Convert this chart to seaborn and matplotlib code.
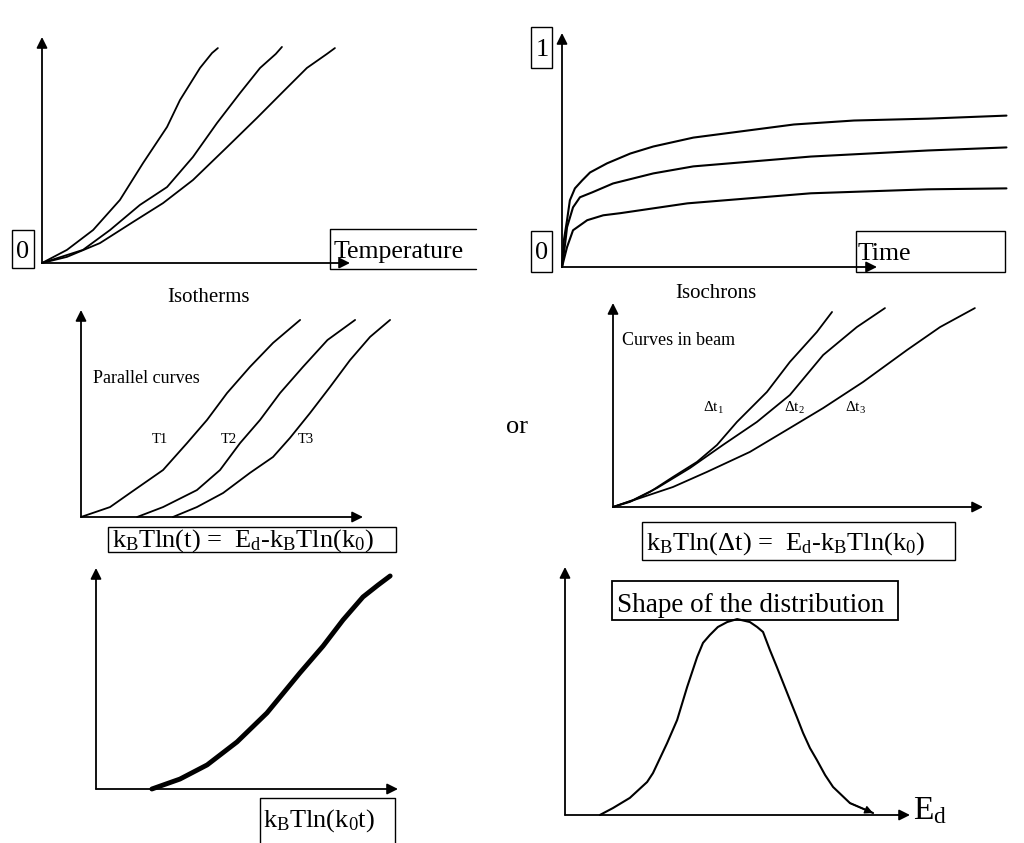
import matplotlib
matplotlib.use("Agg")
import matplotlib.pyplot as plt
import seaborn as sns
import numpy as np
from matplotlib.patches import Rectangle

# ---------------- data (normalised units: 0..100 along each drawn axis) ----------------
# Panel 1: isotherms (fraction vs temperature)
ISO_A_X = [0, 8.1, 16.6, 25.3, 32.8, 40.6, 44.8, 51.3, 55.2, 57.1]
ISO_A_Y = [0, 5.8, 14.6, 27.9, 44.2, 60.2, 72.1, 86.3, 92.9, 95.1]
ISO_B_X = [0, 13.3, 22.1, 31.8, 40.6, 49.0, 56.8, 64.3, 70.8, 75.9, 77.9]
ISO_B_Y = [0, 5.8, 14.6, 25.7, 33.6, 46.9, 61.9, 75.2, 86.3, 92.5, 95.6]
ISO_C_X = [0, 8.1, 18.8, 29.5, 39.3, 49.0, 60.1, 69.8, 78.2, 86.0, 92.5, 95.1]
ISO_C_Y = [0, 2.7, 8.8, 18.1, 26.5, 36.7, 51.3, 64.2, 75.7, 86.3, 92.5, 95.1]

# Panel 2: isochrons (fraction vs time)
CHR_TOP_X = [0, 0.6, 1.6, 2.5, 4.1, 6.4, 8.9, 14.3, 21.7, 29.0, 41.7, 73.6, 92.7, 116.2, 141.1]
CHR_TOP_Y = [0, 11.5, 20.0, 28.5, 33.6, 37.0, 40.4, 44.3, 48.5, 51.5, 55.3, 60.9, 62.6, 63.4, 64.7]
CHR_MID_X = [0, 1.0, 1.6, 3.5, 5.7, 9.6, 16.2, 29.0, 41.7, 79.0, 116.2, 141.1]
CHR_MID_Y = [0, 10.0, 17.0, 25.5, 29.8, 31.9, 35.7, 40.0, 43.0, 47.2, 49.8, 51.1]
CHR_BOT_X = [0, 1.6, 3.5, 8.0, 13.1, 18.5, 39.8, 79.0, 116.2, 141.1]
CHR_BOT_Y = [0, 8.5, 15.7, 20.0, 22.1, 23.0, 27.2, 31.5, 33.2, 33.6]

# Panel 3: parallel curves T1, T2, T3
PAR_T1_X = [0, 10.3, 17.4, 29.1, 37.6, 44.7, 51.8, 59.9, 68.1, 77.7]
PAR_T1_Y = [0, 4.8, 11.6, 22.7, 35.7, 46.9, 59.9, 72.5, 84.1, 95.2]
PAR_T2_X = [19.9, 29.1, 41.1, 49.3, 56.4, 63.5, 70.6, 78.7, 87.4, 97.2]
PAR_T2_Y = [0, 4.8, 13.0, 22.7, 35.7, 46.9, 59.9, 72.5, 85.5, 95.2]
PAR_T3_X = [32.6, 41.1, 50.4, 59.9, 68.1, 74.1, 81.2, 88.3, 95.4, 102.5, 109.6]
PAR_T3_Y = [0, 4.8, 11.6, 21.3, 29.0, 38.2, 50.2, 62.8, 75.8, 87.0, 95.2]
PAR_LABELS = ["T1", "T2", "T3"]

# Panel 4: curves in beam
BEAM_1_X = [0, 4.6, 10.0, 16.2, 22.7, 28.1, 33.5, 41.6, 47.8, 55.1, 59.2]
BEAM_1_Y = [0, 2.5, 7.4, 14.7, 22.1, 30.4, 41.7, 56.4, 71.1, 85.8, 95.6]
BEAM_2_X = [0, 5.4, 11.9, 20.8, 29.7, 38.9, 47.8, 56.8, 65.9, 73.5]
BEAM_2_Y = [0, 3.4, 9.3, 19.1, 30.4, 41.7, 54.9, 74.5, 88.2, 97.5]
BEAM_3_X = [0, 7.3, 16.2, 25.4, 37.0, 47.8, 56.8, 67.6, 79.5, 88.4, 97.8]
BEAM_3_Y = [0, 4.4, 9.8, 17.2, 27.0, 38.7, 48.5, 61.3, 77.0, 88.2, 97.5]
BEAM_LABELS = ["Δt$_\\mathregular{1}$", "Δt$_\\mathregular{2}$", "Δt$_\\mathregular{3}$"]

# Panel 5: master curve
MASTER_X = [18.5, 27.8, 36.8, 46.7, 56.6, 67.5, 75.2, 81.8, 88.4, 93.4, 97.4]
MASTER_Y = [0, 4.5, 10.9, 21.3, 34.4, 52.5, 64.7, 76.5, 86.9, 92.3, 96.4]

# Panel 6: distribution of E_d
ED_X = [10.1, 13.9, 18.8, 23.8, 25.5, 29.6, 32.5, 35.4, 38.3, 40.0, 42.0, 44.3, 47.0, 49.9,
        53.6, 55.7, 57.4, 59.4, 61.4, 65.2, 67.2, 69.0, 71.0, 73.0, 75.4, 77.7, 82.6, 89.3]
ED_Y = [0, 2.8, 6.9, 13.3, 16.9, 29.0, 38.3, 51.6, 63.7, 69.4, 72.6, 75.8, 77.8, 79.0,
        77.8, 75.8, 73.8, 66.5, 59.7, 46.4, 39.5, 33.1, 27.0, 22.2, 16.1, 11.3, 4.8, 0.8]

# ---------------- style ----------------
sns.set_style("white")
plt.rcParams["font.family"] = ["Liberation Serif", "DejaVu Serif"]
plt.rcParams["mathtext.fontset"] = "custom"
plt.rcParams["mathtext.rm"] = "Liberation Serif"
plt.rcParams["mathtext.it"] = "Liberation Serif:italic"
plt.rcParams["text.color"] = "black"

W, H = 1024, 843
fig = plt.figure(figsize=(W / 100, H / 100), dpi=100)
fig.patch.set_facecolor("white")

# overlay axis in pixel units for the text boxes
ov = fig.add_axes([0, 0, 1, 1])
ov.set_xlim(0, W)
ov.set_ylim(H, 0)
ov.axis("off")

ARROW = dict(arrowstyle="-|>", color="black", lw=1.3, mutation_scale=16,
             shrinkA=0, shrinkB=0)


def panel(ox, oy, tx, ty):
    ax = fig.add_axes([ox / W, (H - oy) / H, (tx - ox) / W, (oy - ty) / H])
    ax.set_xlim(0, 100)
    ax.set_ylim(0, 100)
    ax.axis("off")
    ax.annotate("", xy=(100, 0), xytext=(0, 0), arrowprops=ARROW, annotation_clip=False)
    ax.annotate("", xy=(0, 100), xytext=(0, 0), arrowprops=ARROW, annotation_clip=False)
    return ax


def curve(ax, xs, ys, lw=1.3):
    sns.lineplot(x=xs, y=ys, ax=ax, color="black", lw=lw, sort=False,
                 estimator=None, legend=False)
    for ln in ax.lines:
        ln.set_clip_on(False)
        ln.set_solid_joinstyle("round")


def box(x0, y0, x1, y1, lw=1.0):
    ov.add_patch(Rectangle((x0, y0), x1 - x0, y1 - y0, fill=False, ec="black", lw=lw))


TXT = dict(color="black", va="baseline")

# ---- Panel 1 ----
a1 = panel(42, 263, 350, 37)
curve(a1, ISO_A_X, ISO_A_Y)
curve(a1, ISO_B_X, ISO_B_Y)
curve(a1, ISO_C_X, ISO_C_Y)
box(12, 230, 34, 268)
ov.text(23, 258, "0", fontsize=19, ha="center", **TXT)
ov.plot([476, 330, 330, 476], [229, 229, 269, 269], color="black", lw=1.0)
ov.text(334, 258, "Temperature", fontsize=18.5, ha="left", **TXT)
ov.text(208, 302, "Isotherms", fontsize=15, ha="center", **TXT)

# ---- Panel 2 ----
a2 = panel(562, 267, 877, 33)
curve(a2, CHR_TOP_X, CHR_TOP_Y, lw=1.5)
curve(a2, CHR_MID_X, CHR_MID_Y, lw=1.5)
curve(a2, CHR_BOT_X, CHR_BOT_Y, lw=1.5)
box(531, 27, 552, 68)
ov.text(542, 56, "1", fontsize=19, ha="center", **TXT)
box(531, 231, 552, 272)
ov.text(542, 259, "0", fontsize=19, ha="center", **TXT)
box(856, 231, 1005, 272)
ov.text(858, 260, "Time", fontsize=18.5, ha="left", **TXT)
ov.text(716, 298, "Isochrons", fontsize=15, ha="center", **TXT)

# ---- Panel 3 ----
a3 = panel(81, 517, 363, 310)
curve(a3, PAR_T1_X, PAR_T1_Y)
curve(a3, PAR_T2_X, PAR_T2_Y)
curve(a3, PAR_T3_X, PAR_T3_Y)
ov.text(93, 383, "Parallel curves", fontsize=13, ha="left", **TXT)
for lab, xp in zip(PAR_LABELS, [160, 229, 306]):
    ov.text(xp, 443, lab, fontsize=10.5, ha="center", **TXT)
box(108, 527, 396, 552)
ov.text(112, 547, "k$_\\mathregular{B}$Tln(t) =  E$_\\mathregular{d}$-k$_\\mathregular{B}$Tln(k$_\\mathregular{0}$)",
        fontsize=19, ha="left", **TXT)

# ---- "or" ----
ov.text(517, 433, "or", fontsize=19, ha="center", **TXT)

# ---- Panel 4 ----
a4 = panel(613, 507, 983, 303)
curve(a4, BEAM_1_X, BEAM_1_Y)
curve(a4, BEAM_2_X, BEAM_2_Y)
curve(a4, BEAM_3_X, BEAM_3_Y)
ov.text(622, 345, "Curves in beam", fontsize=13, ha="left", **TXT)
for lab, xp in zip(BEAM_LABELS, [703, 784, 845]):
    ov.text(xp, 412, lab, fontsize=11, ha="left", **TXT)
box(642, 522, 955, 560)
ov.text(646, 550, "k$_\\mathregular{B}$Tln(Δt) =  E$_\\mathregular{d}$-k$_\\mathregular{B}$Tln(k$_\\mathregular{0}$)",
        fontsize=19, ha="left", **TXT)

# ---- Panel 5 ----
a5 = panel(96, 789, 398, 568)
curve(a5, MASTER_X, MASTER_Y, lw=3.5)
ov.plot([260, 260, 395, 395], [843, 798, 798, 843], color="black", lw=1.0)
ov.text(263, 827, "k$_\\mathregular{B}$Tln(k$_\\mathregular{0}$t)", fontsize=19, ha="left", **TXT)

# ---- Panel 6 ----
a6 = panel(565, 815, 910, 567)
curve(a6, ED_X, ED_Y, lw=1.5)
a6.annotate("", xy=(ED_X[-1], ED_Y[-1]), xytext=(ED_X[-2], ED_Y[-2]),
            arrowprops=dict(arrowstyle="-|>", color="black", lw=1.0, mutation_scale=12,
                            shrinkA=0, shrinkB=0), annotation_clip=False)
box(612, 581, 898, 620, lw=1.3)
ov.text(617, 612, "Shape of the distribution", fontsize=19.5, ha="left", **TXT)
ov.text(913, 819, "E$_\\mathregular{d}$", fontsize=24, ha="left", **TXT)

fig.savefig("out.png", dpi=100, facecolor="white")
